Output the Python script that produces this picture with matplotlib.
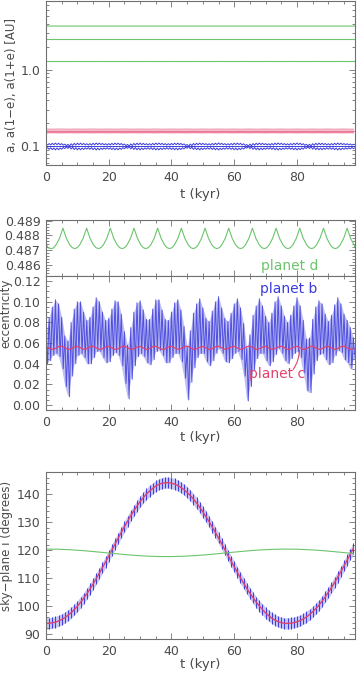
import numpy as np
import matplotlib
matplotlib.use("Agg")
import matplotlib.pyplot as plt
from matplotlib.ticker import MultipleLocator, FixedLocator, NullFormatter, LogLocator

# ---- data ----
# eccentricity of planet b: upper/lower extent of the fast oscillation, 1 kyr steps
ecc_b_hi = [.070, .085, .095, .102, .098, .085, .067, .062, .080, .093,
            .100, .100, .090, .082, .085, .095, .104, .100, .090, .082,
            .084, .093, .101, .100, .088, .071, .058, .075, .090, .099,
            .101, .092, .083, .083, .093, .102, .102, .092, .083, .082,
            .090, .099, .102, .092, .076, .056, .072, .089, .098, .103,
            .094, .084, .081, .091, .100, .105, .094, .084, .081, .089,
            .098, .103, .094, .079, .055, .068, .087, .096, .103, .096,
            .086, .080, .089, .100, .105, .096, .086, .080, .087, .096,
            .104, .096, .082, .064, .065, .083, .095, .101, .098, .088,
            .081, .087, .097, .104, .098, .088, .082, .075, .065]
ecc_b_lo = [.040, .043, .048, .050, .047, .035, .018, .008, .028, .040,
            .048, .050, .046, .040, .040, .046, .052, .052, .046, .041,
            .042, .048, .051, .048, .038, .021, .006, .025, .038, .047,
            .050, .047, .041, .039, .044, .052, .053, .048, .041, .041,
            .046, .050, .050, .042, .026, .005, .022, .036, .046, .050,
            .050, .042, .038, .043, .050, .055, .050, .042, .041, .045,
            .050, .052, .044, .028, .004, .018, .034, .045, .050, .050,
            .043, .038, .042, .049, .055, .050, .043, .040, .045, .050,
            .052, .046, .031, .014, .012, .030, .043, .049, .050, .044,
            .039, .041, .048, .053, .051, .044, .041, .035, .045]

# eccentricity of planet c, 1 kyr steps
ecc_c = [0.0565, 0.0552, 0.0540, 0.0548, 0.0566, 0.0571, 0.0556, 0.0538, 0.0545, 0.0560,
         0.0568, 0.0555, 0.0540, 0.0547, 0.0563, 0.0570, 0.0556, 0.0539, 0.0546, 0.0561,
         0.0569, 0.0554, 0.0538, 0.0546, 0.0564, 0.0571, 0.0555, 0.0540, 0.0547, 0.0562,
         0.0568, 0.0553, 0.0539, 0.0548, 0.0565, 0.0570, 0.0554, 0.0538, 0.0546, 0.0561,
         0.0569, 0.0555, 0.0540, 0.0547, 0.0563, 0.0571, 0.0556, 0.0539, 0.0545, 0.0560,
         0.0568, 0.0554, 0.0538, 0.0546, 0.0564, 0.0570, 0.0555, 0.0540, 0.0547, 0.0562,
         0.0569, 0.0553, 0.0539, 0.0548, 0.0565, 0.0571, 0.0556, 0.0538, 0.0546, 0.0561,
         0.0568, 0.0554, 0.0540, 0.0547, 0.0563, 0.0570, 0.0555, 0.0539, 0.0545, 0.0560,
         0.0569, 0.0555, 0.0538, 0.0546, 0.0564, 0.0571, 0.0554, 0.0540, 0.0547, 0.0562,
         0.0568, 0.0553, 0.0539, 0.0548, 0.0565, 0.0570, 0.0556, 0.0538, 0.0546]

# eccentricity of planet d (cusp-shaped oscillation)
t_d = [0.0, 0.8, 1.62, 2.4, 3.18, 4.3, 5.0, 5.4,
       5.8, 6.5, 7.6, 8.4, 9.17, 9.95, 10.73, 11.83, 12.53, 12.95,
       13.35, 14.05, 15.15, 15.95, 16.72, 17.5, 18.28, 19.38, 20.08, 20.5,
       20.9, 21.6, 22.7, 23.5, 24.27, 25.05, 25.83, 26.93, 27.63, 28.05,
       28.45, 29.15, 30.25, 31.05, 31.82, 32.6, 33.38, 34.48, 35.18, 35.6,
       36.0, 36.7, 37.8, 38.6, 39.37, 40.15, 40.93, 42.03, 42.73, 43.15,
       43.55, 44.25, 45.35, 46.15, 46.92, 47.7, 48.48, 49.58, 50.28, 50.7,
       51.1, 51.8, 52.9, 53.7, 54.47, 55.25, 56.03, 57.13, 57.83, 58.25,
       58.65, 59.35, 60.45, 61.25, 62.02, 62.8, 63.58, 64.68, 65.38, 65.8,
       66.2, 66.9, 68.0, 68.8, 69.57, 70.35, 71.13, 72.23, 72.93, 73.35,
       73.75, 74.45, 75.55, 76.35, 77.12, 77.9, 78.68, 79.78, 80.48, 80.9,
       81.3, 82.0, 83.1, 83.9, 84.67, 85.45, 86.23, 87.33, 88.03, 88.45,
       88.85, 89.55, 90.65, 91.45, 92.22, 93.0, 93.78, 94.88, 95.58, 96.0,
       96.4, 97.1, 98.2, 98.6]
ecc_d = [0.48737, 0.48714, 0.4871, 0.48714, 0.48735, 0.4878, 0.48825, 0.4885,
         0.48825, 0.4878, 0.48735, 0.48716, 0.4871, 0.48716, 0.48735, 0.4878, 0.48825, 0.4885,
         0.48825, 0.4878, 0.48735, 0.48716, 0.4871, 0.48716, 0.48735, 0.4878, 0.48825, 0.4885,
         0.48825, 0.4878, 0.48735, 0.48716, 0.4871, 0.48716, 0.48735, 0.4878, 0.48825, 0.4885,
         0.48825, 0.4878, 0.48735, 0.48716, 0.4871, 0.48716, 0.48735, 0.4878, 0.48825, 0.4885,
         0.48825, 0.4878, 0.48735, 0.48716, 0.4871, 0.48716, 0.48735, 0.4878, 0.48825, 0.4885,
         0.48825, 0.4878, 0.48735, 0.48716, 0.4871, 0.48716, 0.48735, 0.4878, 0.48825, 0.4885,
         0.48825, 0.4878, 0.48735, 0.48716, 0.4871, 0.48716, 0.48735, 0.4878, 0.48825, 0.4885,
         0.48825, 0.4878, 0.48735, 0.48716, 0.4871, 0.48716, 0.48735, 0.4878, 0.48825, 0.4885,
         0.48825, 0.4878, 0.48735, 0.48716, 0.4871, 0.48716, 0.48735, 0.4878, 0.48825, 0.4885,
         0.48825, 0.4878, 0.48735, 0.48716, 0.4871, 0.48716, 0.48735, 0.4878, 0.48825, 0.4885,
         0.48825, 0.4878, 0.48735, 0.48716, 0.4871, 0.48716, 0.48735, 0.4878, 0.48825, 0.4885,
         0.48825, 0.4878, 0.48735, 0.48716, 0.4871, 0.48716, 0.48735, 0.4878, 0.48825, 0.4885,
         0.48825, 0.4878, 0.48735, 0.48716]

# semi-major axes [AU]
a_b, a_c, a_d = 0.100, 0.159, 2.50

# sky-plane inclination [deg], 1 kyr steps
inc_c = [93.80, 93.84, 93.99, 94.25, 94.65, 95.18, 95.85, 96.67, 97.62, 98.71,
         99.94, 101.30, 102.78, 104.39, 106.09, 107.89, 109.77, 111.73, 113.76, 115.83,
         117.94, 120.05, 122.18, 124.29, 126.38, 128.42, 130.38, 132.29, 134.10, 135.80,
         137.37, 138.80, 140.07, 141.17, 142.11, 142.98, 143.57, 143.97, 144.17, 144.18,
         144.01, 143.67, 143.16, 142.49, 141.67, 140.68, 139.56, 138.29, 136.89, 135.37,
         133.74, 132.00, 130.20, 128.30, 126.36, 124.35, 122.30, 120.24, 118.17, 116.11,
         114.06, 112.05, 110.08, 108.17, 106.34, 104.59, 102.96, 101.43, 100.03, 98.77,
         97.53, 96.52, 95.66, 94.96, 94.42, 94.05, 93.84, 93.81, 93.87, 94.05,
         94.36, 94.79, 95.37, 96.08, 96.94, 97.93, 99.06, 100.34, 101.73, 103.25,
         104.89, 106.62, 108.45, 110.36, 112.33, 114.38, 116.45, 118.57, 120.69]
inc_b_top = [95.8, 95.8, 96.0, 96.3, 96.7, 97.2, 97.9, 98.7, 99.6, 100.7,
             101.9, 103.3, 104.8, 106.4, 108.1, 109.9, 111.8, 113.7, 115.8, 117.8,
             119.9, 122.1, 124.2, 126.3, 128.4, 130.4, 132.4, 134.3, 136.1, 137.8,
             139.4, 140.8, 142.1, 143.2, 144.1, 145.0, 145.6, 146.0, 146.2, 146.2,
             146.0, 145.7, 145.2, 144.5, 143.7, 142.7, 141.6, 140.3, 138.9, 137.4,
             135.7, 134.0, 132.2, 130.3, 128.4, 126.4, 124.3, 122.2, 120.2, 118.1,
             116.1, 114.1, 112.1, 110.2, 108.3, 106.6, 105.0, 103.4, 102.0, 100.8,
             99.5, 98.5, 97.7, 97.0, 96.4, 96.1, 95.8, 95.8, 95.9, 96.1,
             96.4, 96.8, 97.4, 98.1, 98.9, 99.9, 101.1, 102.3, 103.7, 105.3,
             106.9, 108.6, 110.5, 112.4, 114.3, 116.4, 118.5, 120.6, 122.7]
inc_b_bot = [91.8, 91.8, 92.0, 92.3, 92.7, 93.2, 93.9, 94.7, 95.6, 96.7,
             97.9, 99.3, 100.8, 102.4, 104.1, 105.9, 107.8, 109.7, 111.8, 113.8,
             115.9, 118.1, 120.2, 122.3, 124.4, 126.4, 128.4, 130.3, 132.1, 133.8,
             135.4, 136.8, 138.1, 139.2, 140.1, 141.0, 141.6, 142.0, 142.2, 142.2,
             142.0, 141.7, 141.2, 140.5, 139.7, 138.7, 137.6, 136.3, 134.9, 133.4,
             131.7, 130.0, 128.2, 126.3, 124.4, 122.4, 120.3, 118.2, 116.2, 114.1,
             112.1, 110.1, 108.1, 106.2, 104.3, 102.6, 101.0, 99.4, 98.0, 96.8,
             95.5, 94.5, 93.7, 93.0, 92.4, 92.1, 91.8, 91.8, 91.9, 92.1,
             92.4, 92.8, 93.4, 94.1, 94.9, 95.9, 97.1, 98.3, 99.7, 101.3,
             102.9, 104.6, 106.5, 108.4, 110.3, 112.4, 114.5, 116.6, 118.7]
t_inc_d = [0, 4, 8, 12, 16, 20, 24, 28, 32, 36, 40, 44, 48, 52, 56, 60, 64,
           68, 72, 76, 80, 84, 88, 92, 96, 98]
inc_d = [120.40, 120.34, 120.14, 119.82, 119.42, 118.98, 118.55, 118.17, 117.89,
         117.73, 117.71, 117.84, 118.09, 118.45, 118.87, 119.31, 119.73, 120.07,
         120.30, 120.40, 120.35, 120.16, 119.86, 119.46, 119.03, 118.81]

# ---- styling ----
BLUE = "#3c3cdc"
RED = "#e0426e"
GREEN = "#6cc46c"
GREY = "#4a4a4a"
FS = 9
LFS = 8.5

plt.rcParams["font.family"] = "DejaVu Sans"
plt.rcParams["font.size"] = FS
plt.rcParams["text.color"] = GREY
plt.rcParams["axes.edgecolor"] = "#707070"
plt.rcParams["axes.labelcolor"] = GREY
plt.rcParams["xtick.color"] = "#707070"
plt.rcParams["ytick.color"] = "#707070"
plt.rcParams["xtick.labelcolor"] = GREY
plt.rcParams["ytick.labelcolor"] = GREY
plt.rcParams["axes.linewidth"] = 0.8

t_int = np.arange(len(ecc_c))
t_zig = np.arange(2 * len(ecc_b_hi)) * 0.5
ecc_b = np.empty(2 * len(ecc_b_hi))
ecc_b[0::2] = ecc_b_hi
ecc_b[1::2] = ecc_b_lo
ecc_c = np.array(ecc_c)
ecc_d = np.array(ecc_d)

XMAX = 98.5
W, H = 357, 673
L, R = 46 / W, 355 / W


def style(ax, xlabels=True, labelpad=2):
    ax.set_xlim(0, XMAX)
    ax.xaxis.set_major_locator(MultipleLocator(20))
    ax.xaxis.set_minor_locator(MultipleLocator(5))
    ax.tick_params(which="both", direction="in", top=True, right=True)
    ax.tick_params(which="major", length=4.5, width=0.6, pad=4)
    ax.tick_params(which="minor", length=2.5, width=0.6)
    if xlabels:
        ax.set_xlabel("t (kyr)", labelpad=labelpad, fontsize=FS + 0.5)
    else:
        ax.tick_params(labelbottom=False)


fig = plt.figure(figsize=(W / 100, H / 100), dpi=100)

# panel 1: a, a(1-e), a(1+e)
ax1 = fig.add_axes([L, 1 - 165 / H, R - L, 164 / H])
ax1.set_yscale("log")
ax1.plot(t_d, a_d * (1 - ecc_d), color=GREEN, lw=0.8)
ax1.plot(t_d, a_d * (1 + ecc_d), color=GREEN, lw=0.8)
ax1.axhline(a_d, color=GREEN, lw=0.8)
ax1.fill_between(t_int, a_c * (1 - ecc_c), a_c * (1 + ecc_c), color="#f8c0cf", lw=0)
ax1.plot(t_int, a_c * (1 - ecc_c), color=RED, lw=0.6, alpha=0.7)
ax1.plot(t_int, a_c * (1 + ecc_c), color=RED, lw=0.6, alpha=0.7)
ax1.axhline(a_c, color=RED, lw=0.6, alpha=0.7)
ax1.plot(t_zig, a_b * (1 - ecc_b), color=BLUE, lw=0.7)
ax1.plot(t_zig, a_b * (1 + ecc_b), color=BLUE, lw=0.7)
ax1.axhline(a_b, color=BLUE, lw=0.7)
ax1.set_ylim(0.057, 7.9)
ax1.yaxis.set_major_locator(FixedLocator([0.1, 1.0]))
ax1.set_yticklabels(["0.1", "1.0"])
ax1.yaxis.set_minor_locator(LogLocator(base=10, subs=np.arange(2, 10)))
ax1.yaxis.set_minor_formatter(NullFormatter())
style(ax1, labelpad=3)
fig.text(12 / W, 1 - 85 / H, "a, a(1\u2212e), a(1+e) [AU]", rotation=90,
         ha="center", va="center", color=GREY, fontsize=LFS)

# panel 2a: eccentricity of planet d
ax2a = fig.add_axes([L, 1 - 276 / H, R - L, 56 / H])
ax2a.plot(t_d, ecc_d, color=GREEN, lw=0.8)
ax2a.set_ylim(0.48522, 0.48906)
ax2a.yaxis.set_major_locator(FixedLocator([0.486, 0.487, 0.488, 0.489]))
ax2a.yaxis.set_minor_locator(MultipleLocator(0.0002))
ax2a.set_yticklabels(["0.486", "0.487", "0.488", "0.489"])
style(ax2a, xlabels=False)
ax2a.text(77.6, 0.48589, "planet d", color=GREEN, ha="center", va="center", fontsize=FS + 1)

# panel 2b: eccentricity of planets b and c
ax2 = fig.add_axes([L, 1 - 410 / H, R - L, 134 / H])
ax2.fill_between(t_int, ecc_b_lo, ecc_b_hi, color="#c0c0f4", lw=0)
ax2.plot(t_zig, ecc_b, color=BLUE, lw=0.7, alpha=0.85)
ax2.plot(t_int, ecc_c, color=RED, lw=0.9)
ax2.set_ylim(-0.0048, 0.125)
ax2.yaxis.set_major_locator(MultipleLocator(0.02))
ax2.yaxis.set_minor_locator(MultipleLocator(0.005))
ax2.yaxis.set_major_formatter(plt.FormatStrFormatter("%.2f"))
style(ax2)
fig.text(6 / W, 1 - 313 / H, "eccentricity", rotation=90,
         ha="center", va="center", color=GREY, fontsize=LFS)
ax2.text(77.4, 0.1126, "planet b", color=BLUE, ha="center", va="center", fontsize=FS + 1)
ax2.text(73.6, 0.030, "planet c", color=RED, ha="center", va="center", fontsize=FS + 1)
ax2.annotate("", xy=(80.8, 0.0535), xytext=(78.8, 0.0345),
             arrowprops=dict(arrowstyle="-", color=RED, lw=0.8,
                             shrinkA=0, shrinkB=0,
                             connectionstyle="arc3,rad=0.15"))

# panel 3: sky-plane inclination
ax3 = fig.add_axes([L, 1 - 639 / H, R - L, 167 / H])
ax3.fill_between(t_int, inc_b_bot, inc_b_top, color="#c4c4f6", lw=0)
ax3.vlines(t_int, inc_b_bot, inc_b_top, color=BLUE, lw=0.7)
ax3.plot(t_int, inc_c, color=RED, lw=1.0)
ax3.plot(t_inc_d, inc_d, color=GREEN, lw=0.8)
ax3.set_ylim(88.2, 148)
ax3.yaxis.set_major_locator(MultipleLocator(10))
ax3.yaxis.set_minor_locator(MultipleLocator(2))
style(ax3, labelpad=0)
fig.text(7 / W, 1 - 546 / H, "sky\u2212plane i (degrees)", rotation=90,
         ha="center", va="center", color=GREY, fontsize=LFS)

fig.savefig("out.png", dpi=100)
